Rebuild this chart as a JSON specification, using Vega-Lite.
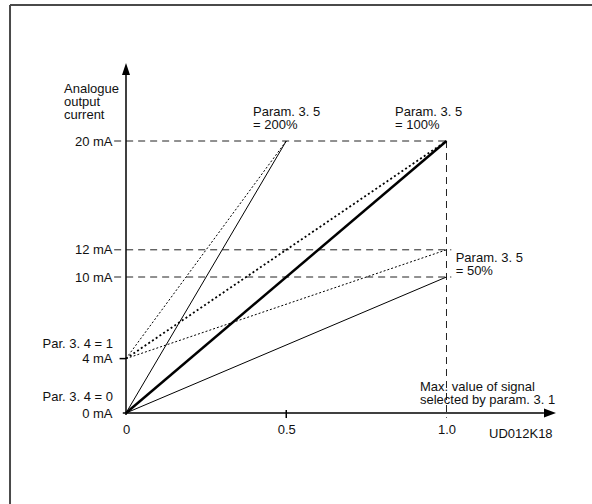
{
  "$schema": "https://vega.github.io/schema/vega-lite/v6.json",
  "width": 592,
  "height": 504,
  "autosize": "none",
  "padding": 0,
  "background": "white",
  "config": {"view": {"stroke": null}},
  "datasets": {
    "segments": [
      {"kind": "frame", "x": -0.3619, "y": 30.0, "x2": 1.454, "y2": 30.0},
      {"kind": "frame", "x": -0.3619, "y": 30.0, "x2": -0.3619, "y2": -6.69},
      {"kind": "axis", "x": 0, "y": -0.15, "x2": 0, "y2": 25.0},
      {"kind": "axis", "x": 0, "y": 0, "x2": 1.304, "y2": 0},
      {"kind": "tick", "x": -0.02, "y": 4, "x2": 0, "y2": 4},
      {"kind": "tick", "x": -0.01, "y": 0, "x2": 0, "y2": 0},
      {"kind": "tick", "x": 0.5, "y": -0.37, "x2": 0.5, "y2": 0.22},
      {"kind": "guide", "x": -0.037, "y": 20, "x2": 1.0, "y2": 20},
      {"kind": "guide", "x": -0.037, "y": 12, "x2": 1.015, "y2": 12},
      {"kind": "guide", "x": -0.037, "y": 10, "x2": 1.015, "y2": 10},
      {"kind": "guide", "x": 1.0, "y": 20, "x2": 1.0, "y2": -0.35},
      {"kind": "thin", "x": 0, "y": 0, "x2": 0.5, "y2": 20},
      {"kind": "thin", "x": 0, "y": 0, "x2": 1.0, "y2": 10},
      {"kind": "thick", "x": 0, "y": 0, "x2": 1.0, "y2": 20},
      {"kind": "dotthin", "x": 0, "y": 4, "x2": 0.5, "y2": 20},
      {"kind": "dotthin", "x": 0, "y": 4, "x2": 1.0, "y2": 12},
      {"kind": "dotthick", "x": 0, "y": 4, "x2": 1.0, "y2": 20}
    ],
    "arrows": [
      {"dir": "up", "x": 0, "y": 25.29},
      {"dir": "right", "x": 1.3229, "y": 0}
    ],
    "notes": [
      {"text": ["Analogue", "output", "current"], "x": -0.1934, "y": 23.5},
      {"text": ["Param. 3. 5", "= 200%"], "x": 0.3963, "y": 21.85},
      {"text": ["Param. 3. 5", "= 100%"], "x": 0.8393, "y": 21.85},
      {"text": ["Param. 3. 5", "= 50%"], "x": 1.0287, "y": 11.12},
      {"text": ["Max. value of signal", "selected by param. 3. 1"], "x": 0.9173, "y": 1.62},
      {"text": ["UD012K18"], "x": 1.1326, "y": -1.84}
    ],
    "parNotes": [
      {"text": "Par. 3. 4 = 1", "x": -0.0406, "y": 4.8},
      {"text": "Par. 3. 4 = 0", "x": -0.0406, "y": 0.846}
    ]
  },
  "encoding": {
    "x": {"field": "x", "type": "quantitative", "scale": {"domain": [-0.39314, 1.45398], "nice": false, "zero": false},
      "axis": {"orient": "bottom", "offset": -91, "values": [0, 0.5, 1], "labelExpr": "datum.value == 0 ? '0' : format(datum.value, '.1f')", "domain": false, "ticks": false, "grid": false, "labelPadding": 10, "labelFont": "Liberation Sans", "labelFontSize": 13, "labelColor": "#111111", "labelFlush": false, "labelOverlap": false, "title": null}},
    "y": {"field": "y", "type": "quantitative", "scale": {"domain": [-6.691, 30.368], "nice": false, "zero": false},
      "axis": {"orient": "left", "offset": -126, "values": [0, 4, 10, 12, 20], "labelExpr": "datum.value + ' mA'", "domain": false, "ticks": false, "grid": false, "labelPadding": 14, "labelFont": "Liberation Sans", "labelFontSize": 13, "labelColor": "#111111", "labelFlush": false, "labelOverlap": false, "title": null}}
  },
  "layer": [
    {
      "data": {"name": "segments"},
      "transform": [{"filter": "datum.kind == 'frame'"}],
      "mark": {"type": "rule", "color": "#4a4a4a", "strokeWidth": 2},
      "encoding": {"x2": {"field": "x2"}, "y2": {"field": "y2"}}
    },
    {
      "data": {"name": "segments"},
      "transform": [{"filter": "datum.kind == 'guide'"}],
      "mark": {"type": "rule", "color": "#222222", "strokeWidth": 1, "strokeDash": [7, 5]},
      "encoding": {"x2": {"field": "x2"}, "y2": {"field": "y2"}}
    },
    {
      "data": {"name": "segments"},
      "transform": [{"filter": "datum.kind == 'thin'"}],
      "mark": {"type": "rule", "color": "black", "strokeWidth": 1},
      "encoding": {"x2": {"field": "x2"}, "y2": {"field": "y2"}}
    },
    {
      "data": {"name": "segments"},
      "transform": [{"filter": "datum.kind == 'thick'"}],
      "mark": {"type": "rule", "color": "black", "strokeWidth": 2.5},
      "encoding": {"x2": {"field": "x2"}, "y2": {"field": "y2"}}
    },
    {
      "data": {"name": "segments"},
      "transform": [{"filter": "datum.kind == 'dotthin'"}],
      "mark": {"type": "rule", "color": "black", "strokeWidth": 1, "strokeDash": [2, 2]},
      "encoding": {"x2": {"field": "x2"}, "y2": {"field": "y2"}}
    },
    {
      "data": {"name": "segments"},
      "transform": [{"filter": "datum.kind == 'dotthick'"}],
      "mark": {"type": "rule", "color": "black", "strokeWidth": 1.8, "strokeDash": [2, 2.5]},
      "encoding": {"x2": {"field": "x2"}, "y2": {"field": "y2"}}
    },
    {
      "data": {"name": "segments"},
      "transform": [{"filter": "datum.kind == 'axis' || datum.kind == 'tick'"}],
      "mark": {"type": "rule", "color": "black", "strokeWidth": 1.5},
      "encoding": {"x2": {"field": "x2"}, "y2": {"field": "y2"}}
    },
    {
      "data": {"name": "arrows"},
      "mark": {"type": "point", "filled": true, "color": "black", "opacity": 1, "size": 144, "strokeWidth": 0},
      "encoding": {
        "shape": {"field": "dir", "type": "nominal", "legend": null,
          "scale": {"domain": ["up", "right"], "range": ["M0,-1L-0.6667,1L0.6667,1Z", "M1,0L-1,-0.75L-1,0.75Z"]}}
      }
    },
    {
      "data": {"name": "notes"},
      "mark": {"type": "text", "align": "left", "baseline": "alphabetic", "font": "Liberation Sans", "fontSize": 13, "lineHeight": 13, "color": "#111111"},
      "encoding": {"text": {"field": "text"}}
    },
    {
      "data": {"name": "parNotes"},
      "mark": {"type": "text", "align": "right", "baseline": "alphabetic", "font": "Liberation Sans", "fontSize": 13, "color": "#111111"},
      "encoding": {"text": {"field": "text"}}
    }
  ]
}
